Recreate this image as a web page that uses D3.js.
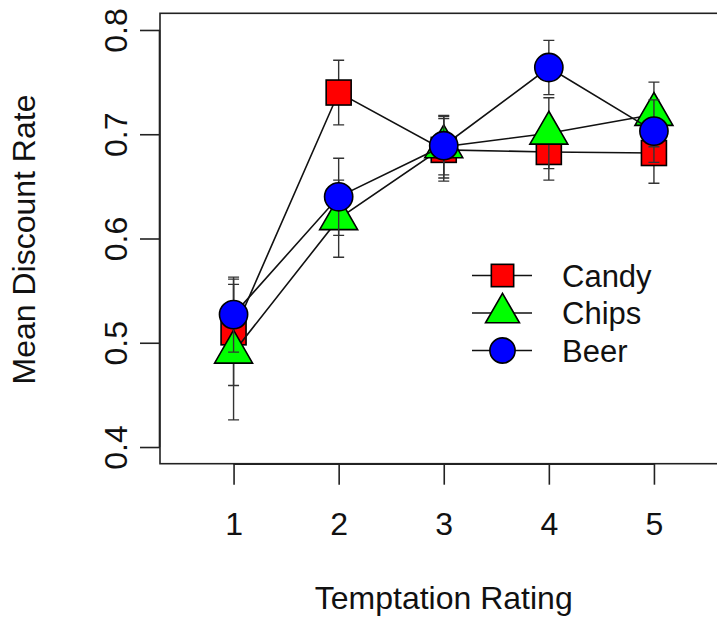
<!DOCTYPE html>
<html>
<head>
<meta charset="utf-8">
<script src="https://cdn.jsdelivr.net/npm/d3@7/dist/d3.min.js"></script>
<style>
  html, body { margin: 0; padding: 0; background: #fff; }
  svg { display: block; font-family: "Liberation Sans", Arial, Helvetica, sans-serif; }
</style>
</head>
<body>
<svg id="chart" width="717" height="618"></svg>
<script>
const ratings = [1, 2, 3, 4, 5];
const yTicks = [0.4, 0.5, 0.6, 0.7, 0.8];

const candyMean = [0.510, 0.740, 0.685, 0.683, 0.682];
const candySe = [0.051, 0.031, 0.030, 0.027, 0.029];
const chipsMean = [0.491, 0.619, 0.688, 0.701, 0.719];
const chipsSe = [0.065, 0.037, 0.030, 0.034, 0.031];
const beerMean = [0.527, 0.640, 0.689, 0.764, 0.703];
const beerSe = [0.036, 0.037, 0.028, 0.026, 0.030];

const seriesNames = ["Candy", "Chips", "Beer"];
const seriesShapes = ["square", "triangle", "circle"];
const seriesColors = ["#ff0000", "#00ff00", "#0000ff"];

(function () {
  "use strict";

  const svg = d3.select("#chart");
  const plot = { left: 160, right: 727.5, top: 13.3, bottom: 463.7 };

  const x = d3.scaleLinear().domain([0.3, 5.7]).range([plot.left, plot.right]);
  const y = d3.scaleLinear().domain([0.384, 0.816]).range([plot.bottom, plot.top]);

  const series = [
    { name: seriesNames[0], shape: seriesShapes[0], color: seriesColors[0], mean: candyMean, se: candySe },
    { name: seriesNames[1], shape: seriesShapes[1], color: seriesColors[1], mean: chipsMean, se: chipsSe },
    { name: seriesNames[2], shape: seriesShapes[2], color: seriesColors[2], mean: beerMean, se: beerSe },
  ];

  // R-style symbol geometry (pch 21/22/24), R = radius in px
  function drawMarker(g, shape, cx, cy, R, fill) {
    if (shape === "circle") {
      g.append("circle").attr("cx", cx).attr("cy", cy).attr("r", R);
    } else if (shape === "square") {
      const s = R * Math.sqrt(Math.PI);
      g.append("rect").attr("x", cx - s / 2).attr("y", cy - s / 2).attr("width", s).attr("height", s);
    } else {
      const r = 1.5551 * R, xc = 1.3468 * R, yc = 0.7776 * R;
      g.append("path").attr("d", `M${cx},${cy - r}L${cx + xc},${cy + yc}L${cx - xc},${cy + yc}Z`);
    }
    g.selectAll(":last-child")
      .attr("fill", fill)
      .attr("stroke", "#000")
      .attr("stroke-width", 1.6);
  }

  // box
  svg.append("rect")
    .attr("x", plot.left).attr("y", plot.top)
    .attr("width", plot.right - plot.left).attr("height", plot.bottom - plot.top)
    .attr("fill", "none").attr("stroke", "#222").attr("stroke-width", 1.6);

  // x axis
  const xAxis = d3.axisBottom(x).tickValues(ratings).tickSize(21).tickSizeOuter(0).tickPadding(0).tickFormat(d3.format("d"));
  const gx = svg.append("g").attr("transform", `translate(0,${plot.bottom})`).call(xAxis);
  gx.select(".domain").attr("d", `M${x(1)},0.5H${x(5)}`).attr("stroke", "#222").attr("stroke-width", 1.6);
  gx.selectAll(".tick line").attr("stroke", "#222").attr("stroke-width", 1.6);
  gx.selectAll(".tick text")
    .attr("y", 71).attr("dy", null)
    .attr("font-size", 32).attr("font-family", "Liberation Sans, Arial, sans-serif").attr("fill", "#111");

  // y axis
  const yAxis = d3.axisLeft(y).tickValues(yTicks).tickSize(20).tickSizeOuter(0).tickFormat(d3.format(".1f"));
  const gy = svg.append("g").attr("transform", `translate(${plot.left},0)`).call(yAxis);
  gy.select(".domain").attr("d", `M-0.5,${y(0.4)}V${y(0.8)}`).attr("stroke", "#222").attr("stroke-width", 1.6);
  gy.selectAll(".tick line").attr("stroke", "#222").attr("stroke-width", 1.6);
  gy.selectAll(".tick text")
    .attr("x", null).attr("dy", null)
    .attr("transform", "translate(-33,0) rotate(-90)")
    .attr("text-anchor", "middle")
    .attr("font-size", 32).attr("font-family", "Liberation Sans, Arial, sans-serif").attr("fill", "#111");

  // axis titles
  svg.append("text")
    .attr("x", (plot.left + plot.right) / 2).attr("y", 609)
    .attr("text-anchor", "middle").attr("font-size", 32).attr("fill", "#111")
    .text("Temptation Rating");
  svg.append("text")
    .attr("transform", `translate(35,${(plot.top + plot.bottom) / 2 + 1}) rotate(-90)`)
    .attr("text-anchor", "middle").attr("font-size", 32).attr("fill", "#111")
    .text("Mean Discount Rate");

  const line = d3.line().x((d) => x(d[0])).y((d) => y(d[1]));
  const cap = 5.5;

  series.forEach((s) => {
    const g = svg.append("g");
    // error bars
    ratings.forEach((r, i) => {
      const lo = y(s.mean[i] - s.se[i]), hi = y(s.mean[i] + s.se[i]), cx = x(r);
      g.append("path")
        .attr("d", `M${cx},${lo}V${hi}M${cx - cap},${lo}H${cx + cap}M${cx - cap},${hi}H${cx + cap}`)
        .attr("fill", "none").attr("stroke", "#333").attr("stroke-width", 1.4);
    });
    // connecting line
    g.append("path")
      .datum(ratings.map((r, i) => [r, s.mean[i]]))
      .attr("d", line)
      .attr("fill", "none").attr("stroke", "#111").attr("stroke-width", 1.6);
    // markers
    ratings.forEach((r, i) => {
      drawMarker(g, s.shape, x(r), y(s.mean[i]), 14.1, s.color);
    });
  });

  // legend
  const legend = svg.append("g");
  const legendRows = [275.5, 313, 350.5];
  series.forEach((s, i) => {
    const ly = legendRows[i];
    legend.append("line")
      .attr("x1", 472).attr("x2", 532).attr("y1", ly).attr("y2", ly)
      .attr("stroke", "#111").attr("stroke-width", 1.6);
    drawMarker(legend, s.shape, 502.5, ly, 12.6, s.color);
    legend.append("text")
      .attr("x", 562).attr("y", ly + 11)
      .attr("font-size", 31).attr("fill", "#111")
      .text(s.name);
  });
})();
</script>
</body>
</html>
